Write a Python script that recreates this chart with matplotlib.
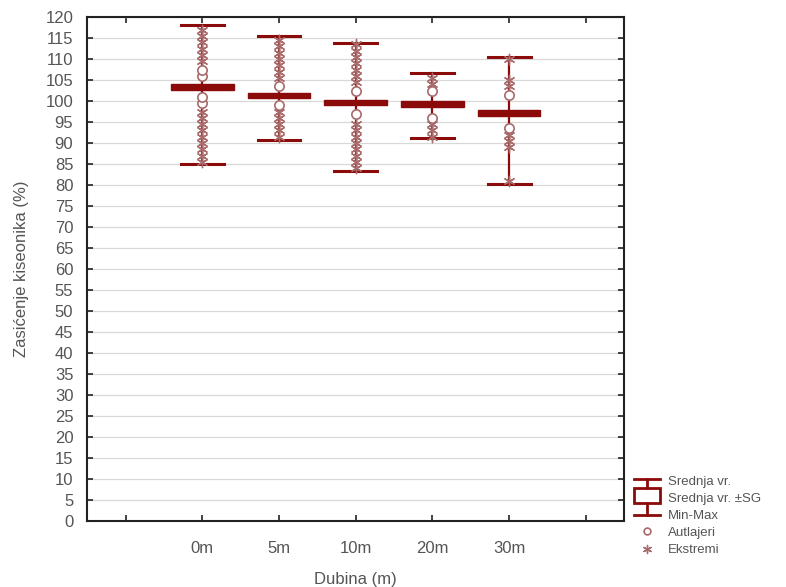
import matplotlib
matplotlib.use("Agg")
import matplotlib.pyplot as plt
from matplotlib.patches import Rectangle
import numpy as np

# Zasicenje kiseonika po dubinama
depths = ['0m', '5m', '10m', '20m', '30m']
means = [103.3, 101.3, 99.6, 99.3, 97.2]
std_err = [0.65, 0.6, 0.65, 0.6, 0.65]
mins = [85.0, 90.8, 83.4, 91.2, 80.3]
maxs = [118.1, 115.4, 113.8, 106.7, 110.4]

outliers = [
    [99.5, 101.0, 106.0, 107.5],
    [99.0, 103.5],
    [97.0, 102.5],
    [96.0, 102.5],
    [93.5, 101.5],
]
extremes = [
    [85.5, 87, 88.5, 90, 91.5, 93, 94.5, 96, 97.5, 109.5, 111, 112.5, 114, 115.5, 117],
    [91.5, 93, 94.5, 96, 97.5, 105.5, 107, 108.5, 110, 111.5, 113, 114.5],
    [84, 85.5, 87, 88.5, 90, 91.5, 93, 94.5, 104.5, 106, 107.5, 109, 110.5, 112, 113.5],
    [91.5, 93, 94.5, 104, 105.5],
    [81, 89, 90.5, 92, 103.5, 105, 110],
]

red = '#8b0a0a'
mark_col = '#a86a6a'
txt_col = '#555555'

plt.rcParams['font.family'] = ['Liberation Sans', 'DejaVu Sans']

fig = plt.figure(figsize=(7.86, 5.87), dpi=100)
ax = fig.add_axes([0.111, 0.112, 0.683, 0.859])

x = np.arange(len(depths))
box_hw = 0.41
cap_hw = 0.28

for i in range(len(depths)):
    # min-max brkovi
    ax.plot([x[i], x[i]], [mins[i], maxs[i]], color=red, lw=1.6, zorder=3)
    ax.plot([x[i] - cap_hw, x[i] + cap_hw], [mins[i], mins[i]], color=red, lw=2.2, zorder=3)
    ax.plot([x[i] - cap_hw, x[i] + cap_hw], [maxs[i], maxs[i]], color=red, lw=2.2, zorder=3)
    # srednja vrednost +- SG
    ax.add_patch(Rectangle((x[i] - box_hw, means[i] - std_err[i]), 2 * box_hw, 2 * std_err[i],
                           facecolor=red, edgecolor=red, lw=1.0, zorder=5))
    ax.scatter(np.full(len(extremes[i]), x[i]), extremes[i], marker=(6, 2, 0), s=55,
               color=mark_col, lw=1.0, zorder=4)
    ax.scatter(np.full(len(outliers[i]), x[i]), outliers[i], marker='o', s=45,
               facecolor='white', edgecolor=mark_col, lw=1.2, zorder=6)

ax.set_xlim(-1.5, 5.5)
ax.set_ylim(0, 120)
ax.set_yticks(np.arange(0, 121, 5))
ax.set_xticks(np.arange(-1, 6))
ax.set_xticklabels([''] + depths + [''])
ax.yaxis.grid(True, color='#d8d8d8', lw=0.9)
ax.set_axisbelow(True)
ax.tick_params(axis='both', direction='in', length=4, width=1.2, colors='#222222',
               labelcolor=txt_col, labelsize=12, top=True, right=True)
ax.tick_params(axis='y', pad=10)
ax.tick_params(axis='x', pad=14)
for sp in ax.spines.values():
    sp.set_linewidth(1.5)
    sp.set_color('#222222')

ax.set_ylabel('Zasićenje kiseonika (%)', color=txt_col, fontsize=12, labelpad=12)
ax.set_xlabel('Dubina (m)', color=txt_col, fontsize=12, labelpad=12)

# legenda
lg = fig.add_axes([0, 0, 1, 1], zorder=10)
lg.set_xlim(0, 786)
lg.set_ylim(587, 0)
lg.axis('off')
sx0, sx1, sxc = 634, 660, 647
lg.plot([sx0, sx1], [479, 479], color=red, lw=2)
lg.plot([sxc, sxc], [479, 488], color=red, lw=2)
lg.add_patch(Rectangle((sx0, 488), sx1 - sx0, 15, facecolor='white', edgecolor=red, lw=2))
lg.plot([sxc, sxc], [503, 515], color=red, lw=2)
lg.plot([sx0, sx1], [515, 515], color=red, lw=2)
lg.scatter([sxc], [531], marker='o', s=24, facecolor='white', edgecolor=mark_col, lw=1.2)
lg.scatter([sxc], [549], marker=(6, 2, 0), s=34, color=mark_col, lw=1.0)
labels = ['Srednja vr.', 'Srednja vr. ±SG', 'Min-Max', 'Autlajeri', 'Ekstremi']
for k, lab in enumerate(labels):
    lg.text(668, 482 + 17 * k, lab, color=txt_col, fontsize=9.5, va='center', ha='left')

fig.savefig('out.png', dpi=100)
